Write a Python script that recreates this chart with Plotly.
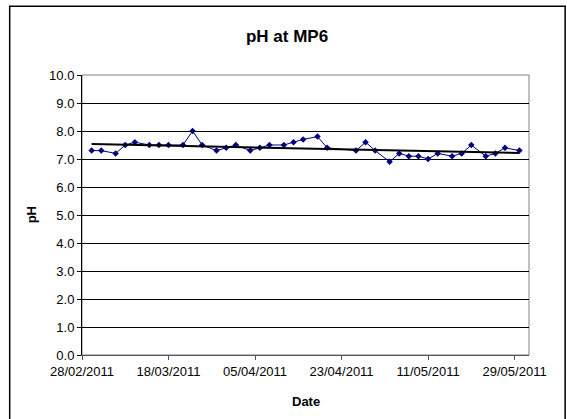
import numpy as np
import pandas as pd
import plotly.graph_objects as go

dates = ["2011-03-02", "2011-03-04", "2011-03-07", "2011-03-09", "2011-03-11",
         "2011-03-14", "2011-03-16", "2011-03-18", "2011-03-21", "2011-03-23",
         "2011-03-25", "2011-03-28", "2011-03-30", "2011-04-01", "2011-04-04",
         "2011-04-06", "2011-04-08", "2011-04-11", "2011-04-13", "2011-04-15",
         "2011-04-18", "2011-04-20", "2011-04-26", "2011-04-28", "2011-04-30",
         "2011-05-03", "2011-05-05", "2011-05-07", "2011-05-09", "2011-05-11",
         "2011-05-13", "2011-05-16", "2011-05-18", "2011-05-20", "2011-05-23",
         "2011-05-25", "2011-05-27", "2011-05-30"]
ph = [7.3, 7.3, 7.2, 7.5, 7.6,
      7.5, 7.5, 7.5, 7.5, 8.0,
      7.5, 7.3, 7.4, 7.5, 7.3,
      7.4, 7.5, 7.5, 7.6, 7.7,
      7.8, 7.4, 7.3, 7.6, 7.3,
      6.9, 7.2, 7.1, 7.1, 7.0,
      7.2, 7.1, 7.2, 7.5, 7.1,
      7.2, 7.4, 7.3]

title = "pH at MP6"
x_title = "Date"
y_title = "pH"

# linear trendline (as Excel's linear trendline)
d = pd.to_datetime(dates)
days = (d - d[0]).days.values.astype(float)
slope, intercept = np.polyfit(days, np.array(ph), 1)
trend_x = [dates[0], dates[-1]]
trend_y = [intercept, intercept + slope * days[-1]]

W, H = 567, 419
L, R, T, B = 81.7, 529.3, 75.0, 355.3
pw, ph_ = R - L, B - T

FONT = "Liberation Sans, Arial, sans-serif"

fig = go.Figure()
fig.add_trace(go.Scatter(
    x=dates, y=ph, mode="lines+markers",
    line=dict(color="#000080", width=1),
    marker=dict(symbol="diamond", size=5, color="#000080"),
    showlegend=False, cliponaxis=False))
fig.add_trace(go.Scatter(
    x=trend_x, y=trend_y, mode="lines",
    line=dict(color="black", width=2),
    showlegend=False))

fig.update_layout(
    width=W, height=H,
    margin=dict(l=L, r=W - R, t=T, b=H - B, pad=0),
    paper_bgcolor="white", plot_bgcolor="white",
    font=dict(family=FONT, color="black", size=13),
    title=dict(text="<b>" + title + "</b>", x=287 / W, xref="container",
               xanchor="center", y=1 - 36 / H, yref="container", yanchor="middle",
               font=dict(size=17, family=FONT, color="black")),
    xaxis=dict(type="date", range=["2011-02-28", "2011-06-01"],
               tick0="2011-02-28", dtick=18 * 86400000, tickformat="%d/%m/%Y",
               ticks="outside", ticklen=4, tickcolor="#555555", tickwidth=1,
               showline=True, linecolor="#555555", linewidth=1,
               showgrid=False, zeroline=False,
               tickfont=dict(size=13, family=FONT)),
    yaxis=dict(range=[0, 10], dtick=1, tick0=0, tickformat=".1f",
               ticks="outside", ticklen=4, tickcolor="black", tickwidth=1,
               showline=True, linecolor="black", linewidth=1,
               showgrid=True, gridcolor="black", gridwidth=1, zeroline=False,
               tickfont=dict(size=13, family=FONT)),
    shapes=[
        dict(type="rect", xref="paper", yref="paper", x0=0, x1=1, y0=0, y1=1,
             line=dict(color="#808080", width=1), layer="below"),
        dict(type="rect", xref="paper", yref="paper",
             x0=(9.3 - L) / pw, x1=(565.5 - L) / pw,
             y0=(B - 430) / ph_, y1=(B - 6.3) / ph_,
             line=dict(color="black", width=1.5)),
    ],
    annotations=[
        dict(text="<b>" + x_title + "</b>", xref="paper", yref="paper",
             x=0.5, y=(B - 402) / ph_, xanchor="center", yanchor="middle",
             showarrow=False, font=dict(size=13, family=FONT)),
        dict(text="<b>" + y_title + "</b>", xref="paper", yref="paper",
             x=(31 - L) / pw, y=0.5, xanchor="center", yanchor="middle",
             textangle=-90, showarrow=False, font=dict(size=13, family=FONT)),
    ],
)

fig.write_html("out.html", config={"displayModeBar": False},
               post_script="document.body.style.margin='0';")
